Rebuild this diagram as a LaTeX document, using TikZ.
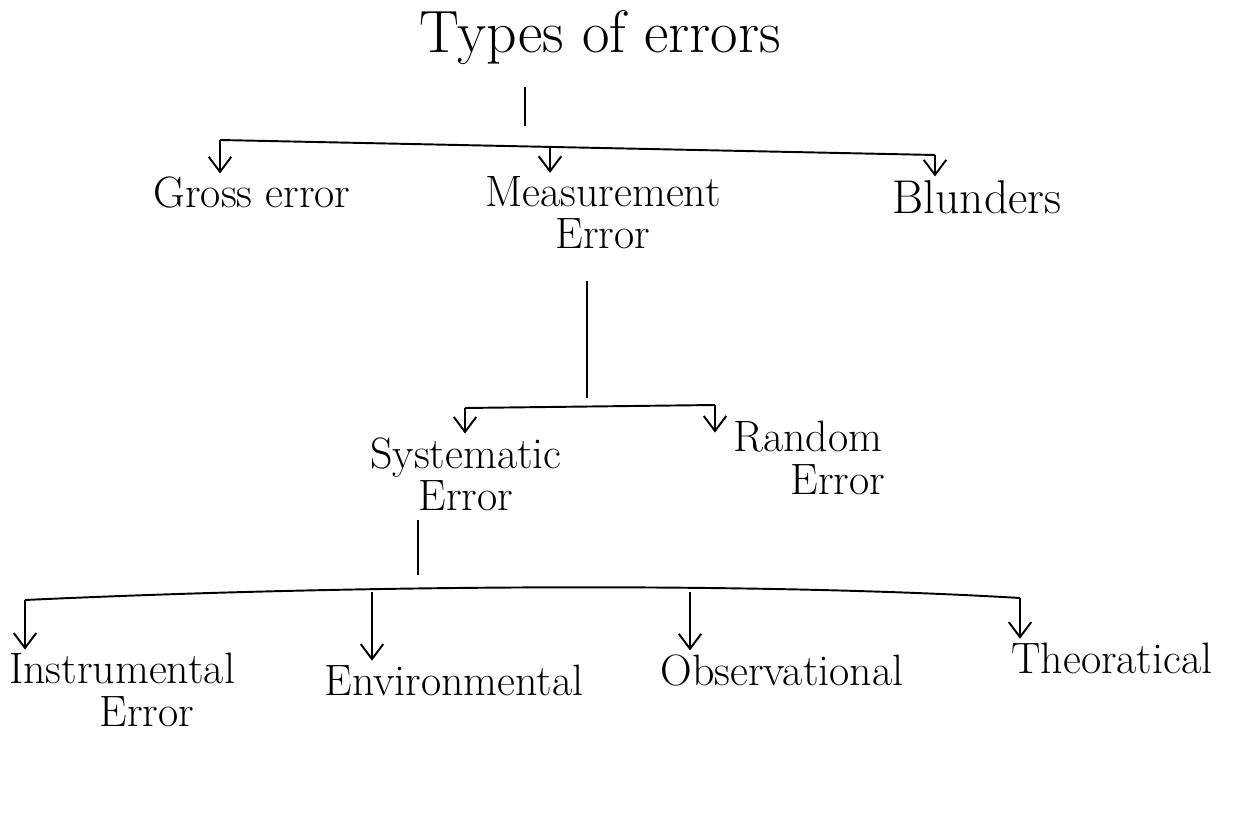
\documentclass[tikz,border=0pt]{standalone}
\usetikzlibrary{arrows.meta}

\begin{document}
\begin{tikzpicture}[x=0.02cm, y=-0.02cm]
\useasboundingbox (0,0) rectangle (1242,834);

\begin{scope}[every node/.style={align=center, inner sep=1pt, font=\fontsize{25}{27}\selectfont}]
    \node (types) at (600, 38) [font=\fontsize{34}{36}\selectfont] {Types of errors};

    \node (gross) at (252, 193) {Gross error};
    \node (meas) at (603, 213) {Measurement\\[-3pt]Error};
    \node (blunders) at (977, 197) [font=\fontsize{27}{29}\selectfont] {Blunders};

    \node (syst) at (466, 474) {Systematic\\[-3pt]Error};
    \node (rand) at (808, 458) {Random\\[-3pt]\hspace*{1.2cm}Error};

    \node (instr) at (122, 690) {Instrumental\\[-3pt]\hspace*{1cm}Error};
    \node (env) at (454, 680) {Environmental};
    \node (obs) at (782, 670) {Observational};
    \node (theo) at (1112, 658) {Theoratical};
\end{scope}

% bar points
\coordinate (top) at (525, 146);
\coordinate (ga) at (220, 140);
\coordinate (ma) at (550, 147);
\coordinate (ba) at (935, 155);

\coordinate (mid) at (587, 406);
\coordinate (sa) at (465, 408);
\coordinate (ra) at (715, 405);

\coordinate (low) at (418, 590);
\coordinate (ia) at (25, 600);
\coordinate (ea) at (372, 592);
\coordinate (oa) at (690, 592);
\coordinate (ta) at (1020, 598);

\begin{scope}[line width=1.1pt, >={Straight Barb[length=3mm, width=4.5mm]},
              every edge/.style={draw, shorten >=1pt}]
    \draw [shorten <=0.4cm, shorten >=0.4cm] (types.south -| top) -- (top);
    \draw (ga) -- (ba);
    \path [->] (ga) edge (ga |- gross.north);
    \path [->] (ma) edge (ma |- meas.north);
    \path [->] (ba) edge (ba |- blunders.north);

    \draw [shorten <=0.6cm, shorten >=0.15cm] (meas.south -| mid) -- (mid);
    \draw (sa) -- (ra);
    \path [->] (sa) edge (sa |- syst.north);
    \path [->] (ra) edge ([yshift=-0.3cm]ra |- rand.north);

    \draw [shorten <=0.15cm, shorten >=0.3cm] (syst.south -| low) -- (low);
    \draw (ia) .. controls (350, 585) and (750, 582) .. (ta);
    \path [->] (ia) edge (ia |- instr.north);
    \path [->] (ea) edge (ea |- env.north);
    \path [->] (oa) edge (oa |- obs.north);
    \path [->] (ta) edge (ta |- theo.north);
\end{scope}
\end{tikzpicture}
\end{document}
